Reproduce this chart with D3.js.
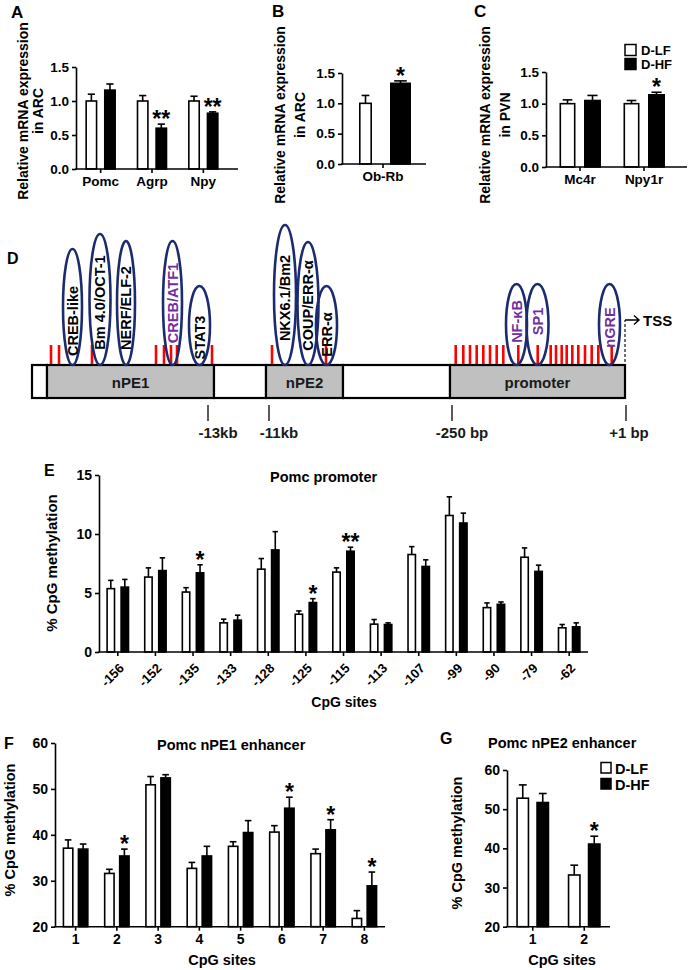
<!DOCTYPE html>
<html><head><meta charset="utf-8">
<script src="https://cdn.jsdelivr.net/npm/d3@7"></script>
<style>
body{margin:0;background:#fff}
svg{display:block}
text{font-family:"Liberation Sans",Arial,Helvetica,sans-serif;font-weight:bold;fill:#000}
</style>
</head><body>
<svg id="c" width="689" height="970"></svg>
<script>
// ================= DATA =================
const seriesNames = ["D-LF", "D-HF"];

// Panel A (ARC)
const catsA = ["Pomc", "Agrp", "Npy"];
const lfA = [1.00, 1.00, 1.00];
const lfErrA = [0.10, 0.08, 0.07];
const hfA = [1.16, 0.60, 0.82];
const hfErrA = [0.09, 0.06, 0.02];
const sigA = ["", "**", "**"];

// Panel B (ARC)
const catsB = ["Ob-Rb"];
const lfB = [1.00];
const lfErrB = [0.13];
const hfB = [1.33];
const hfErrB = [0.04];
const sigB = ["*"];

// Panel C (PVN)
const catsC = ["Mc4r", "Npy1r"];
const lfC = [1.00, 1.00];
const lfErrC = [0.06, 0.05];
const hfC = [1.05, 1.14];
const hfErrC = [0.08, 0.04];
const sigC = ["", "*"];
const ticksABC = [0, 0.5, 1.0, 1.5];

// Panel E (Pomc promoter)
const catsE = ["-156","-152","-135","-133","-128","-125","-115","-113","-107","-99","-90","-79","-62"];
const lfE    = [5.37, 6.35, 5.08, 2.47, 7.02, 3.20, 6.77, 2.36, 8.26, 11.57, 3.76, 8.03, 2.05];
const lfErrE = [0.70, 0.78, 0.37, 0.31, 0.90, 0.28, 0.36, 0.39, 0.67, 1.58, 0.40, 0.79, 0.28];
const hfE    = [5.50, 6.90, 6.71, 2.70, 8.65, 4.19, 8.54, 2.33, 7.25, 10.93, 4.04, 6.83, 2.13];
const hfErrE = [0.65, 1.08, 0.68, 0.42, 1.55, 0.33, 0.34, 0.14, 0.56, 0.84, 0.20, 0.53, 0.34];
const sigE   = ["", "", "*", "", "", "*", "**", "", "", "", "", "", ""];
const ticksE = [0, 5, 10, 15];

// Panel F (nPE1 enhancer)
const catsF = ["1","2","3","4","5","6","7","8"];
const lfF    = [37.1, 31.6, 50.9, 32.7, 37.5, 40.6, 35.9, 21.8];
const lfErrF = [1.8, 0.9, 1.8, 1.3, 1.0, 1.4, 1.0, 1.7];
const hfF    = [36.9, 35.4, 52.4, 35.4, 40.5, 45.8, 41.1, 28.9];
const hfErrF = [1.1, 1.5, 0.7, 2.1, 2.6, 2.4, 2.2, 3.0];
const sigF   = ["", "*", "", "", "", "*", "*", "*"];

// Panel G (nPE2 enhancer)
const catsG = ["1", "2"];
const lfG = [52.8, 33.2];
const lfErrG = [3.4, 2.5];
const hfG = [51.7, 41.1];
const hfErrG = [2.3, 2.0];
const sigG = ["", "*"];
const ticksFG = [20, 30, 40, 50, 60];

// Panel D schematic (positions in schematic units along the locus drawing)
const segNames  = ["", "nPE1", "", "nPE2", "", "promoter"];
const segStarts = [0, 15, 182, 234, 311, 418];
const segEnds   = [15, 182, 234, 311, 418, 593];
const cpgD = [19, 27, 60, 124, 132, 139, 145, 180, 240, 294,
              423.7, 431.3, 438, 444.7, 451.3, 458, 464.7, 471.3, 486.3, 505.7,
              518.7, 524, 529.7, 534.7, 540.3, 546.3, 553, 559.7, 566.3, 579.7];
const tfNames  = ["CREB-like","Bm 4.0/OCT-1","NERF/ELF-2","CREB/ATF1","STAT3","NKX6.1/Bm2","COUP/ERR-α","ERR-α","NF-κB","SP1","nGRE"];
const tfCenter = [40.5, 68, 94, 140.5, 167.5, 253, 276, 294.5, 484.5, 505.5, 577.5];
const tfHalfW  = [9.5, 10.5, 9, 9.5, 10.5, 11, 10.5, 10.5, 10.5, 11, 10.5];
const tfReach  = [116, 131, 124, 124, 79, 140, 123, 79, 81, 81, 81];
const tfTextOff = [14, 3, 5, 0, 12, 3, 2, 9, -3, -3, 3];
const tfPurple = [false,false,false,true,false,false,false,false,true,true,true];
const markNames = ["-13kb", "-11kb", "-250 bp", "+1 bp"];
const markPos   = [176, 237, 420, 594];

// ================= DRAW =================
const svg = d3.select("#c");
const FONT = '"Liberation Sans",Arial,sans-serif';

function label(t, x, y, fs, anchor, color) {
  return svg.append("text").attr("x", x).attr("y", y).attr("font-size", fs)
    .attr("text-anchor", anchor || "start").style("fill", color || "#000").text(t);
}
function rotLabel(lines, xs, cy, fs) {
  lines.forEach((t, i) => {
    svg.append("text").attr("transform", `translate(${xs[i]},${cy}) rotate(-90)`)
      .attr("text-anchor", "middle").attr("font-size", fs).text(t);
  });
}

function barPanel(o) {
  const g = svg.append("g");
  const x = d3.scaleBand().domain(o.cats).range(o.xr);
  const y = d3.scaleLinear().domain(o.yd).range(o.yr);
  const base = o.yr[0];
  const sets = [
    {v: o.lf, e: o.lfErr, fill: "#fff", dx: -o.off, w: o.w[0]},
    {v: o.hf, e: o.hfErr, fill: "#000", dx: o.off, w: o.w[1]}
  ];
  sets.forEach(s => {
    const gg = g.append("g");
    const cx = c => x(c) + x.bandwidth() / 2 + s.dx;
    gg.selectAll("line.err").data(o.cats).join("line").attr("class", "err")
      .attr("x1", c => cx(c)).attr("x2", c => cx(c))
      .attr("y1", (c, i) => y(s.v[i])).attr("y2", (c, i) => y(s.v[i] + s.e[i]))
      .attr("stroke", "#000").attr("stroke-width", 1.6);
    gg.selectAll("line.cap").data(o.cats).join("line").attr("class", "cap")
      .attr("x1", c => cx(c) - s.w * 0.3).attr("x2", c => cx(c) + s.w * 0.3)
      .attr("y1", (c, i) => y(s.v[i] + s.e[i])).attr("y2", (c, i) => y(s.v[i] + s.e[i]))
      .attr("stroke", "#000").attr("stroke-width", 1.6);
    gg.selectAll("rect").data(o.cats).join("rect")
      .attr("x", c => cx(c) - s.w / 2 + 0.8).attr("width", s.w - 1.6)
      .attr("y", (c, i) => y(s.v[i])).attr("height", (c, i) => base - y(s.v[i]))
      .attr("fill", s.fill).attr("stroke", "#000").attr("stroke-width", 1.6);
  });
  g.selectAll("text.sig").data(o.cats).join("text").attr("class", "sig")
    .attr("x", c => x(c) + x.bandwidth() / 2 + o.off)
    .attr("y", (c, i) => y(o.hf[i] + o.hfErr[i]) + 3)
    .attr("text-anchor", "middle").attr("font-size", 23)
    .text((c, i) => o.sig[i]);

  const ya = g.append("g").attr("transform", `translate(${o.x0},0)`)
    .call(d3.axisLeft(y).tickValues(o.ticks).tickFormat(o.fmt).tickSize(4).tickSizeOuter(0));
  ya.selectAll("path,line").attr("stroke", "#000").attr("stroke-width", 1.6);
  ya.selectAll("text").attr("font-size", o.fs).style("font-family", FONT).style("font-weight", "bold");

  const xa = g.append("g").attr("transform", `translate(0,${base})`)
    .call(d3.axisBottom(x).tickSize(4).tickSizeOuter(0));
  xa.select(".domain").remove();
  xa.selectAll("line").attr("stroke", "#000").attr("stroke-width", 1.6);
  xa.selectAll("text").attr("font-size", o.xfs || o.fs).style("font-family", FONT).style("font-weight", "bold");
  if (o.rotate) {
    xa.selectAll("text").attr("x", 0).attr("y", 0).attr("dy", 0)
      .attr("text-anchor", "end").attr("transform", "translate(7,17) rotate(-45)");
  }
  g.append("line").attr("x1", o.x0 - 0.8).attr("x2", o.x1).attr("y1", base).attr("y2", base)
    .attr("stroke", "#000").attr("stroke-width", 1.6);
  return {x, y};
}

const fmt1 = d3.format(".1f");
const fmt0 = d3.format("d");

// ---- Panel A ----
label("A", 11, 18, 17);
rotLabel(["Relative mRNA expression", "in ARC"], [27.5, 43], 111, 14);
barPanel({cats: catsA, lf: lfA, lfErr: lfErrA, hf: hfA, hfErr: hfErrA, sig: sigA,
  xr: [75, 229], x0: 76, x1: 238, yd: [0, 1.5], yr: [169, 67], ticks: ticksABC, fmt: fmt1,
  w: [12, 12], off: 9.3, fs: 13.5});

// ---- Panel B ----
label("B", 272, 17, 17);
rotLabel(["Relative mRNA expression", "in ARC"], [285, 305], 115, 14);
barPanel({cats: catsB, lf: lfB, lfErr: lfErrB, hf: hfB, hfErr: hfErrB, sig: sigB,
  xr: [342, 424], x0: 342, x1: 426, yd: [0, 1.5], yr: [164, 73], ticks: ticksABC, fmt: fmt1,
  w: [13, 21], off: 17.5, fs: 13.5});

// ---- Panel C ----
label("C", 474, 17, 17);
rotLabel(["Relative mRNA expression", "in PVN"], [490, 510], 115, 14);
barPanel({cats: catsC, lf: lfC, lfErr: lfErrC, hf: hfC, hfErr: hfErrC, sig: sigC,
  xr: [548, 676], x0: 546, x1: 687, yd: [0, 1.5], yr: [167, 72], ticks: ticksABC, fmt: fmt1,
  w: [16, 17], off: 12.5, fs: 13.5});
// legend C
[0, 1].forEach(i => {
  svg.append("rect").attr("x", 625).attr("y", 44.5 + i * 14).attr("width", 11).attr("height", 11)
    .attr("fill", i ? "#000" : "#fff").attr("stroke", "#000").attr("stroke-width", 1.5);
  label(seriesNames[i], 641, 55 + i * 14, 13);
});

// ---- Panel D (schematic) ----
label("D", 7, 264, 16);
const xs = d3.scaleLinear().domain([0, 593]).range([32, 625]);
const barTop = 365, barBot = 398;
segNames.forEach((n, i) => {
  svg.append("rect").attr("x", xs(segStarts[i])).attr("y", barTop)
    .attr("width", xs(segEnds[i]) - xs(segStarts[i])).attr("height", barBot - barTop)
    .attr("fill", n ? "#c0c0c0" : "#fff").attr("stroke", "#000").attr("stroke-width", 2.2);
  if (n) label(n, (xs(segStarts[i]) + xs(segEnds[i])) / 2, 388, 15, "middle", "#1a1a1a");
});
svg.append("g").selectAll("line").data(cpgD).join("line")
  .attr("x1", d => xs(d)).attr("x2", d => xs(d)).attr("y1", 345).attr("y2", barTop - 1)
  .attr("stroke", "#ff0000").attr("stroke-width", 2.6);
const tfG = svg.append("g");
tfNames.forEach((n, i) => {
  const cx = xs(tfCenter[i]);
  const ry = tfReach[i] / 2;
  const cy = barTop - ry;
  tfG.append("ellipse").attr("cx", cx).attr("cy", cy).attr("rx", tfHalfW[i]).attr("ry", ry)
    .attr("fill", "none").attr("stroke", "#1c2b6e").attr("stroke-width", 2.6);
  tfG.append("text").attr("transform", `translate(${cx + 5.3},${cy + tfTextOff[i]}) rotate(-90)`)
    .attr("text-anchor", "middle").attr("font-size", 14.5)
    .style("fill", tfPurple[i] ? "#7030a0" : "#000").text(n);
});
// position marks
const labOff = [10, 10, 10, 3];
markNames.forEach((n, i) => {
  svg.append("line").attr("x1", xs(markPos[i])).attr("x2", xs(markPos[i])).attr("y1", 405).attr("y2", 421)
    .attr("stroke", "#333").attr("stroke-width", 1.6);
  label(n, xs(markPos[i]) + labOff[i], 438, 15, "middle", "#1a1a1a");
});
// TSS arrow
svg.append("line").attr("x1", xs(593)).attr("x2", xs(593)).attr("y1", 362).attr("y2", 320)
  .attr("stroke", "#333").attr("stroke-width", 1.4).attr("stroke-dasharray", "3,2");
svg.append("path").attr("d", `M${xs(593)},320 H${xs(593) + 14} M${xs(593) + 9},315.5 L${xs(593) + 14},320 L${xs(593) + 9},324.5`)
  .attr("fill", "none").attr("stroke", "#000").attr("stroke-width", 1.4);
label("TSS", 643, 326, 15);

// ---- Panel E ----
label("E", 44, 476, 16);
label("Pomc promoter", 270, 482, 14.5);
rotLabel(["% CpG methylation"], [56.5], 563, 15);
barPanel({cats: catsE, lf: lfE, lfErr: lfErrE, hf: hfE, hfErr: hfErrE, sig: sigE,
  xr: [99, 588], x0: 99, x1: 588, yd: [0, 15], yr: [652, 475], ticks: ticksE, fmt: fmt0,
  w: [9, 9], off: 7, fs: 14, xfs: 13, rotate: true});
label("CpG sites", 344, 707, 14, "middle");

// ---- Panel F ----
label("F", 4, 749, 16);
label("Pomc nPE1 enhancer", 157, 750, 14.5);
rotLabel(["% CpG methylation"], [14.5], 830, 14.5);
barPanel({cats: catsF, lf: lfF, lfErr: lfErrF, hf: hfF, hfErr: hfErrF, sig: sigF,
  xr: [55, 385], x0: 55, x1: 385, yd: [20, 60], yr: [926.7, 743], ticks: ticksFG, fmt: fmt0,
  w: [11, 11], off: 7.5, fs: 14});
label("CpG sites", 222, 965, 14.5, "middle");

// ---- Panel G ----
label("G", 440, 744, 16);
label("Pomc nPE2 enhancer", 488, 748, 14.5);
rotLabel(["% CpG methylation"], [461.5], 843, 14.5);
barPanel({cats: catsG, lf: lfG, lfErr: lfErrG, hf: hfG, hfErr: hfErrG, sig: sigG,
  xr: [507, 610], x0: 507, x1: 610, yd: [20, 60], yr: [926.7, 770], ticks: ticksFG, fmt: fmt0,
  w: [13, 13], off: 10, fs: 14});
label("CpG sites", 562, 965, 14.5, "middle");
[0, 1].forEach(i => {
  svg.append("rect").attr("x", 601).attr("y", 762.5 + i * 16).attr("width", 10).attr("height", 10.5)
    .attr("fill", i ? "#000" : "#fff").attr("stroke", "#000").attr("stroke-width", 1.5);
  label(seriesNames[i], 615, 773.5 + i * 16, 14.5);
});
</script>
</body></html>
